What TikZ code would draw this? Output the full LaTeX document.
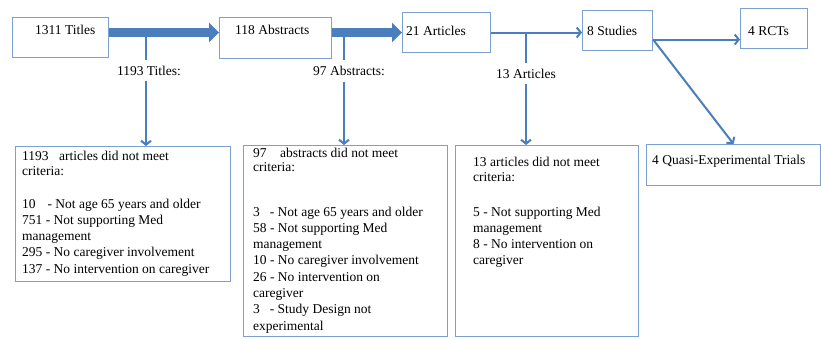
\documentclass[tikz,border=0pt]{standalone}
\usepackage{fontspec}
\setmainfont{Liberation Serif}
\usetikzlibrary{arrows.meta}
\definecolor{arrowblue}{RGB}{74,126,188}
\definecolor{boxblue}{RGB}{125,160,210}
\tikzset{
  box/.style={draw=boxblue,line width=1.1pt,inner sep=0pt,anchor=north west},
  txt/.style={inner sep=0pt,anchor=base west},
  para/.style={inner sep=0pt,anchor=north west,align=left},
  lbl/.style={inner ysep=6pt,inner xsep=0pt},
  fat/.style={draw=arrowblue,line width=9pt,-{Triangle[length=10pt,width=19pt]}},
  flow/.style={draw=arrowblue,line width=2pt,-{Straight Barb[length=4pt,width=10pt]}},
  drop/.style={draw=arrowblue,line width=2pt}
}
\begin{document}
\begin{tikzpicture}[x=1pt,y=-1pt,font=\fontsize{13.5}{16.3}\selectfont]
  \useasboundingbox[fill=white] (0,0) rectangle (821,339);
  % top row
  \node[box,minimum width=96pt,minimum height=40pt] (titles) at (12,17) {};
  \node[box,minimum width=112pt,minimum height=41pt] (abstracts) at (219,17) {};
  \node[box,minimum width=88pt,minimum height=40pt] (articles) at (402,12) {};
  \node[box,minimum width=70pt,minimum height=40pt] (studies) at (582,10) {};
  \node[box,minimum width=67pt,minimum height=40pt] (rcts) at (740,8) {};
  \node[txt] (titles-t) at (35,35) {1311 Titles};
  \node[txt] (abstracts-t) at (235,35) {118 Abstracts};
  \node[txt] (articles-t) at (406,36) {21 Articles};
  \node[txt] (studies-t) at (587,36) {8 Studies};
  \node[txt] (rcts-t) at (748,36) {4 RCTs};
  % bottom row
  \node[box,minimum width=215pt,minimum height=135pt] (out-titles) at (15,146) {};
  \node[box,minimum width=204pt,minimum height=191pt] (out-abstracts) at (243,145) {};
  \node[box,minimum width=183pt,minimum height=191pt] (out-articles) at (455,145) {};
  \node[box,minimum width=174pt,minimum height=41pt] (quasi) at (646,144) {};
  \node[para] (out-titles-t) at (22,150.5) {1193\hspace{7pt} articles did not meet\\[-1.3pt]
    criteria:\\[16.7pt]
    10\hspace{8.5pt} - Not age 65 years and older\\
    751 - Not supporting Med\\
    management\\
    295 - No caregiver involvement\\
    137 - No intervention on caregiver};
  \node[para] (out-abstracts-t) at (253,147.5) {97\hspace{10pt} abstracts did not meet\\[-2.3pt]
    criteria:\\[28.7pt]
    3\hspace{6.5pt} - Not age 65 years and older\\
    58 - Not supporting Med\\
    management\\
    10 - No caregiver involvement\\
    26 - No intervention on\\
    caregiver\\
    3\hspace{6.5pt} - Study Design not\\
    experimental};
  \node[para] (out-articles-t) at (473,156.5) {13 articles did not meet\\[-1.3pt]
    criteria:\\[18.7pt]
    5 - Not supporting Med\\
    management\\
    8 - No intervention on\\
    caregiver};
  \node[txt] (quasi-t) at (652,165) {4 Quasi-Experimental Trials};
  % excluded counts
  \node[lbl] (n1193) at (149,70.5) {1193 Titles:};
  \node[lbl] (n97) at (349,71) {97 Abstracts:};
  \node[lbl] (n13) at (526,73.5) {13 Articles};
  \coordinate (d1) at (146,32);
  \coordinate (d2) at (344,32);
  \coordinate (d3) at (526,32);
  \foreach \d/\n/\b in {d1/n1193/out-titles,d2/n97/out-abstracts,d3/n13/out-articles}
  {
    \draw[drop] (\d) -- (\d |- \n.north);
    \draw[flow] (\d |- \n.south) -- (\d |- \b.north);
  }
  % main flow
  \draw[fat] ([yshift=5pt]titles.east) -- ([yshift=5pt]titles.east -| abstracts.west);
  \draw[fat] (abstracts.east |- articles.west) -- (articles.west);
  \draw[flow] (articles.east) -- (articles.east -| studies.west);
  \coordinate (split) at ([yshift=-9pt]studies.east);
  \draw[flow] (split) -- (split -| rcts.west);
  \draw[flow] (split) -- (quasi.north);
\end{tikzpicture}
\end{document}
